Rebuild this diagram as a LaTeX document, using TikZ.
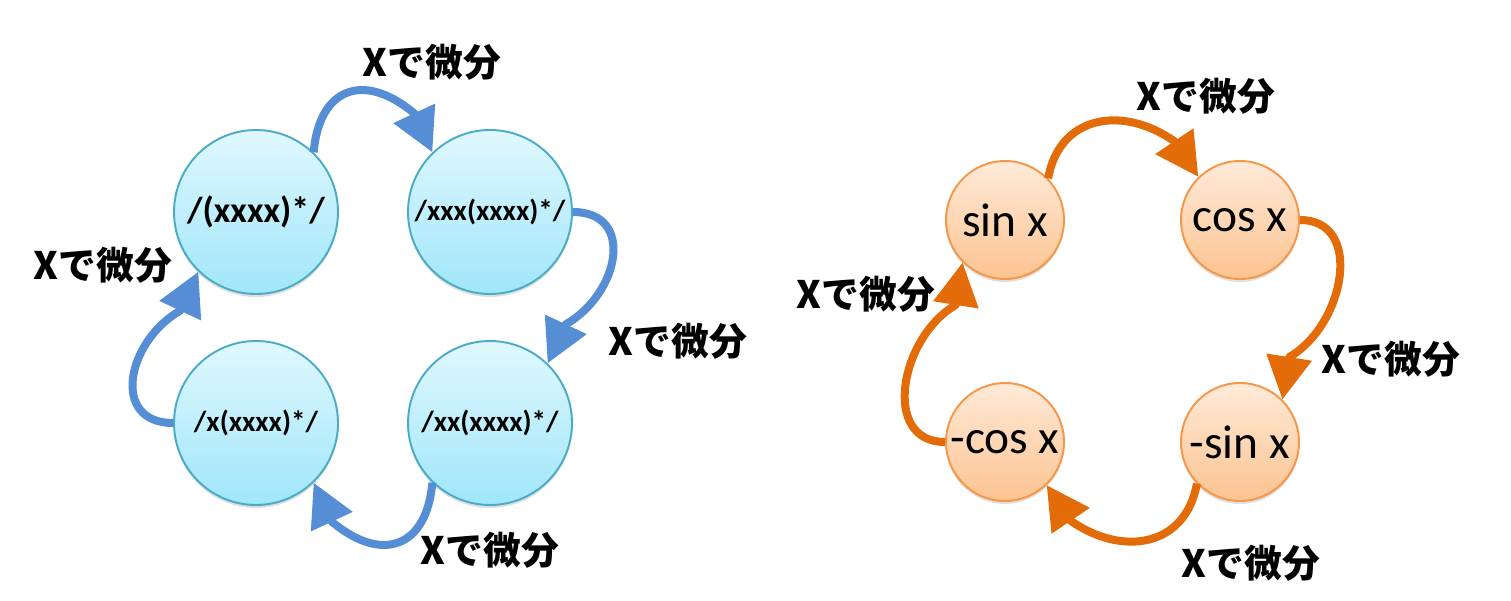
\documentclass[tikz,border=0pt]{standalone}
\usepackage{fontspec}
\setmainfont{Carlito}
\newfontfamily\jpfont{Noto Sans CJK JP}
\usetikzlibrary{arrows.meta, positioning, shadows}
\definecolor{bluearrow}{RGB}{85,142,213}
\definecolor{bluerim}{RGB}{75,172,198}
\definecolor{bluetop}{RGB}{224,248,254}
\definecolor{bluebot}{RGB}{160,230,250}
\definecolor{orangearrow}{RGB}{227,108,9}
\definecolor{orangerim}{RGB}{247,150,70}
\definecolor{orangetop}{RGB}{255,234,216}
\definecolor{orangebot}{RGB}{252,195,145}

\begin{document}
\begin{tikzpicture}[
    bluecirc/.style={circle, draw=bluerim, line width=1.1pt, top color=bluetop, bottom color=bluebot, minimum size=3.28cm, inner sep=0pt, font=\bfseries\fontsize{16.5}{18}\selectfont, drop shadow={shadow xshift=0pt, shadow yshift=-0.06cm, opacity=0.25}},
    orangecirc/.style={circle, draw=orangerim, line width=1.1pt, top color=orangetop, bottom color=orangebot, minimum size=2.36cm, inner sep=0pt, font=\fontsize{27}{30}\selectfont, drop shadow={shadow xshift=0pt, shadow yshift=-0.06cm, opacity=0.25}},
    barrow/.style={line width=0.16cm, line join=round, draw=bluearrow, -{Triangle[length=0.86cm, width=0.88cm]}},
    oarrow/.style={line width=0.16cm, line join=round, draw=orangearrow, -{Triangle[length=0.86cm, width=0.88cm]}},
    lbl/.style={font=\jpfont\bfseries\fontsize{21.5}{24}\selectfont, inner sep=0pt}
]
    \useasboundingbox (0,0) rectangle (30.22,12);

    \node[bluecirc, font=\bfseries\fontsize{20.5}{24}\selectfont] at (5.12,7.76) (full) {/(xxxx)*/};
    \node[bluecirc] at (9.80,7.76) (xxx) {/xxx(xxxx)*/};
    \node[bluecirc] at (9.80,3.54) (xx) {/xx(xxxx)*/};
    \node[bluecirc] at (5.12,3.54) (x) {/x(xxxx)*/};

    \draw[barrow] (full.46) to[out=85, in=140, looseness=1.55] ([shift={(115:0.86)}]xxx.134) -- (xxx.134);
    \draw[barrow] (xxx.0) to[out=0, in=30, looseness=1.42] ([shift={(65:0.86)}]xx.46) -- (xx.46);
    \draw[barrow] (xx.226) to[out=265, in=320, looseness=1.55] ([shift={(295:0.86)}]x.314) -- (x.314);
    \draw[barrow] (x.180) to[out=180, in=210, looseness=1.42] ([shift={(245:0.86)}]full.226) -- (full.226);

    \node[lbl] at (8.64,10.76) (dtop) {Xで微分};
    \node[lbl] at (13.56,5.18) (dright) {Xで微分};
    \node[lbl] at (9.80,1.00) (dbottom) {Xで微分};
    \node[lbl] at (2.06,6.70) (dleft) {Xで微分};

    \node[orangecirc] at (20.10,7.60) (sinx) {sin x};
    \node[orangecirc] at (24.80,7.60) (cosx) {cos x};
    \node[orangecirc] at (24.80,3.16) (msinx) {-sin x};
    \node[orangecirc] at (20.10,3.16) (mcosx) {-cos x};

    \draw[oarrow] (sinx.44) to[out=80, in=145, looseness=1.24] ([shift={(124:0.86)}]cosx.134) -- (cosx.134);
    \draw[oarrow] (cosx.0) to[out=0, in=30, looseness=1.2] ([shift={(81:0.86)}]msinx.45) -- (msinx.45);
    \draw[oarrow] (msinx.224) to[out=260, in=325, looseness=1.24] ([shift={(304:0.86)}]mcosx.314) -- (mcosx.314);
    \draw[oarrow] (mcosx.180) to[out=180, in=210, looseness=1.2] ([shift={(261:0.86)}]sinx.225) -- (sinx.225);

    \node[lbl] at (24.12,10.08) (etop) {Xで微分};
    \node[lbl] at (27.82,4.82) (eright) {Xで微分};
    \node[lbl] at (25.02,0.74) (ebottom) {Xで微分};
    \node[lbl] at (17.32,6.12) (eleft) {Xで微分};
\end{tikzpicture}
\end{document}
